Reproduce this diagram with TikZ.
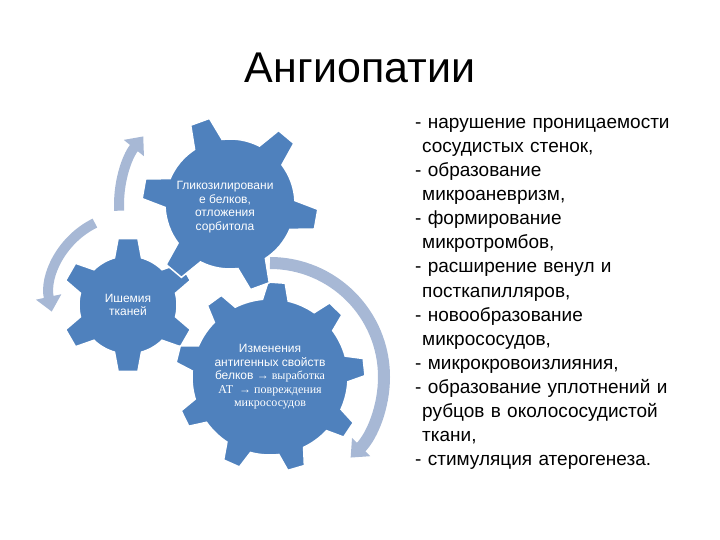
\documentclass[tikz,border=0pt]{standalone}
\usepackage{fontspec}
\setmainfont{Liberation Sans}
\newfontfamily\serifcyr{Liberation Serif}
\usetikzlibrary{arrows.meta}
\definecolor{gearblue}{HTML}{4F81BD}
\definecolor{arcblue}{HTML}{A7B8D5}

% #1 centre, #2 teeth, #3 inner radius, #4 outer radius,
% #5 angle of first tooth, #6 half angle at base, #7 half angle at tip
\newcommand{\gearshape}[7]{%
  \begin{scope}[shift={(#1)}]
    \pgfmathsetmacro{\gpitch}{360/#2}
    \draw[gearbody] ({#5-#6}:#3pt)
      \foreach \k in {1,...,#2}{
        -- ({#5+(\k-1)*\gpitch-#7}:#4pt) -- ({#5+(\k-1)*\gpitch+#7}:#4pt)
        -- ({#5+(\k-1)*\gpitch+#6}:#3pt)
        arc[start angle={#5+(\k-1)*\gpitch+#6}, end angle={#5+\k*\gpitch-#6}, radius=#3pt]
      } -- cycle;
  \end{scope}}

\begin{document}
\begin{tikzpicture}[x=1pt,y=1pt,
    gearbody/.style={fill=gearblue,draw=white,line width=1.5pt},
    geartext/.style={text=white,align=center,font=\fontsize{12}{13.5}\selectfont},
    turnarrow/.style={draw=arcblue,line width=10pt,-{Triangle[width=25pt,length=15pt]}}]
  \useasboundingbox (0,0) rectangle (720,540);

  \node (title) at (360,472.5) {\fontsize{43}{50}\selectfont Ангиопатии};

  % circular arrows
  \draw[turnarrow,line width=12pt] (270,163) ++(90:114pt) arc[start angle=90,end angle=-45,radius=114pt];
  \draw[turnarrow] (130,245) ++(116:80pt) arc[start angle=116,end angle=192,radius=80pt];
  \draw[turnarrow] (228,335) ++(183:109pt) arc[start angle=183,end angle=141,radius=109pt];

  % gears
  \gearshape{128,235}{6}{49}{67}{90}{16}{8.5}
  \gearshape{270,163}{9}{78}{95}{86}{9.5}{5.2}
  \gearshape{230,336}{6}{65}{88}{110}{13}{6.5}

  \node[geartext] (glyc) at (225,333) {Гликозилировани\\е белков,\\отложения\\сорбитола};
  \node[geartext] (isch) at (128,235) {Ишемия\\тканей};
  \node[geartext] (antig) at (270,163) {Изменения\\антигенных свойств\\белков {\serifcyr → выработка}\\{\serifcyr АТ \ → повреждения}\\{\serifcyr микрососудов}};

  \node[anchor=north west,inner sep=0pt,text width=300pt,align=left,font=\fontsize{19}{24.1}\selectfont] (effects) at (415,428.7)
    {\strut- нарушение проницаемости\\
     \hspace*{7pt}сосудистых стенок,\\
     - образование\\
     \hspace*{7pt}микроаневризм,\\
     - формирование\\
     \hspace*{7pt}микротромбов,\\
     - расширение венул и\\
     \hspace*{7pt}посткапилляров,\\
     - новообразование\\
     \hspace*{7pt}микрососудов,\\
     - микрокровоизлияния,\\
     - образование уплотнений и\\
     \hspace*{7pt}рубцов в околососудистой\\
     \hspace*{7pt}ткани,\\
     - стимуляция атерогенеза.};
\end{tikzpicture}
\end{document}
